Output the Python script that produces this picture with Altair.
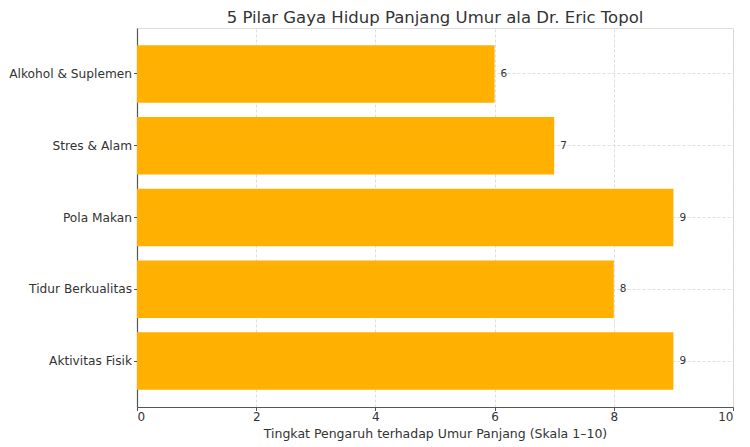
import altair as alt
import pandas as pd

categories = ["Alkohol & Suplemen", "Stres & Alam", "Pola Makan", "Tidur Berkualitas", "Aktivitas Fisik"]
values = [6, 7, 9, 8, 9]
x_ticks = [0, 2, 4, 6, 8, 10]

df = pd.DataFrame({"pilar": categories, "nilai": values})

FONT = "DejaVu Sans"
TXT = "#333333"

y_enc = alt.Y(
    "pilar:N",
    sort=categories,
    title=None,
    scale=alt.Scale(paddingInner=0.2, paddingOuter=0.24),
    axis=alt.Axis(
        labelFont=FONT, labelFontSize=12.2, labelColor=TXT, labelPadding=2,
        tickSize=3.5, tickColor="#555555", domainColor="#555555", domainWidth=1.2,
        grid=True, gridDash=[3, 2], gridColor="#d6d6d6", gridWidth=0.8, bandPosition=0.5,
    ),
)
x_enc = alt.X(
    "nilai:Q",
    title="Tingkat Pengaruh terhadap Umur Panjang (Skala 1–10)",
    scale=alt.Scale(domain=[0, 10], nice=False),
    axis=alt.Axis(
        values=x_ticks, format="d", labelFont=FONT, labelFontSize=12, labelColor=TXT,
        titleFont=FONT, titleFontSize=12.5, titleColor=TXT, titleFontWeight="normal",
        titlePadding=5, tickSize=3.5, tickColor="#555555", domainColor="#555555", domainWidth=1.2,
        grid=True, gridDash=[3, 2], gridColor="#d6d6d6", gridWidth=0.8, labelPadding=1,
    ),
)

bars = alt.Chart(df).mark_bar(color="#FFB000").encode(x=x_enc, y=y_enc)
labels = alt.Chart(df).mark_text(
    align="left", baseline="middle", dx=6, font=FONT, fontSize=10.5, color=TXT
).encode(x="nilai:Q", y=alt.Y("pilar:N", sort=categories), text="nilai:Q")

chart = (
    alt.layer(bars, labels)
    .properties(
        width=596,
        height=379,
        title=alt.TitleParams(
            "5 Pilar Gaya Hidup Panjang Umur ala Dr. Eric Topol",
            font=FONT, fontSize=16.5, fontWeight="normal", color=TXT, anchor="middle", offset=2,
        ),
        autosize=alt.AutoSizeParams(type="none"),
        padding={"left": 129, "top": 20, "right": 8, "bottom": 40},
    )
    .configure_view(stroke=None)
    .configure(background="white")
)

chart.save("out.html", embed_options={"renderer": "svg", "actions": False})
